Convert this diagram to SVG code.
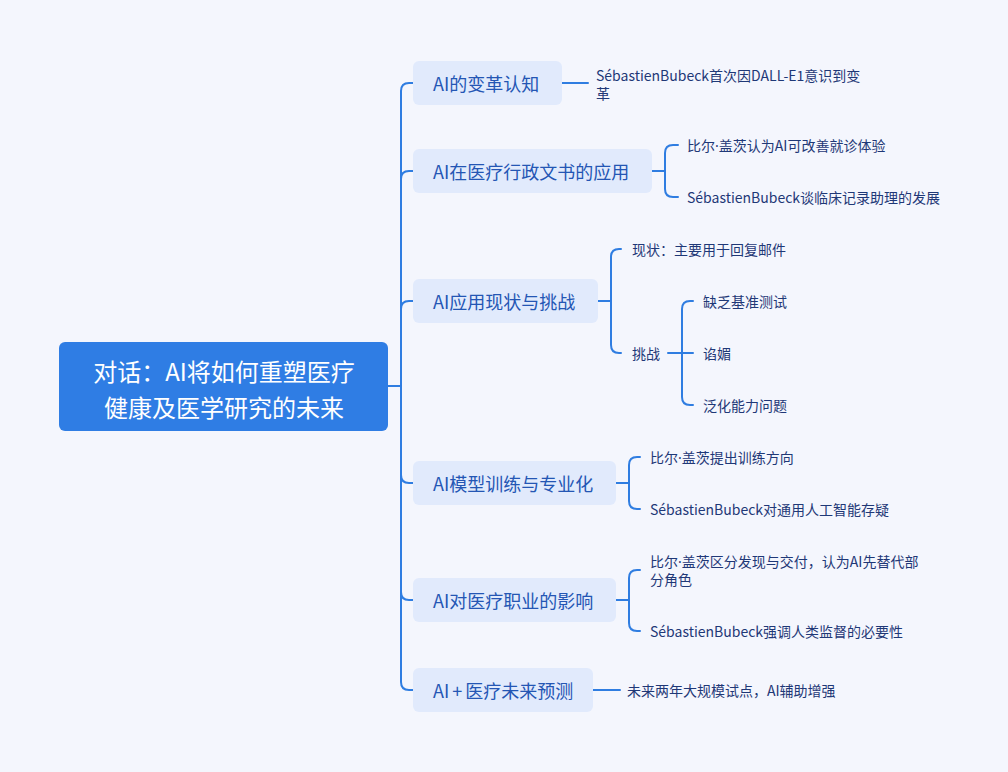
<svg xmlns="http://www.w3.org/2000/svg" width="1008" height="772" viewBox="0 0 1008 772">
<style>
.bg{fill:#f4f6fd}
.root{fill:#2f7de4}
.rt{fill:#ffffff;font-family:"Noto Sans CJK SC","Noto Sans",sans-serif;font-size:24px;text-anchor:middle;dominant-baseline:central}
.n{fill:#e1eafc}
.nt{fill:#2456b4;font-family:"Noto Sans CJK SC","Noto Sans",sans-serif;font-size:18px;dominant-baseline:central}
.lt{fill:#1f3877;font-family:"Noto Sans CJK SC","Noto Sans",sans-serif;font-size:14px;dominant-baseline:central}
.dot{font-family:"Noto Sans",sans-serif}
.c{fill:none;stroke:#2f7de1;stroke-width:2;stroke-linecap:round;stroke-linejoin:round}
</style>
<rect class="bg" x="0" y="0" width="1008" height="772"/>
<g id="connectors">
<path class="c" d="M388 386 H401"/>
<path class="c" d="M401 386 V91 Q401 83 409 83 H413"/>
<path class="c" d="M401 386 V179 Q401 171 409 171 H413"/>
<path class="c" d="M401 386 V309 Q401 301 409 301 H413"/>
<path class="c" d="M401 386 V475 Q401 483 409 483 H413"/>
<path class="c" d="M401 386 V592 Q401 600 409 600 H413"/>
<path class="c" d="M401 386 V682 Q401 690 409 690 H413"/>
<path class="c" d="M562 83 H588"/>
<path class="c" d="M652 171 H665"/>
<path class="c" d="M665 171 V153 Q665 145 673 145 H678"/>
<path class="c" d="M665 171 V189 Q665 197 673 197 H678"/>
<path class="c" d="M598 301 H611"/>
<path class="c" d="M611 301 V257 Q611 249 619 249 H621"/>
<path class="c" d="M611 301 V345 Q611 353 619 353 H621"/>
<path class="c" d="M668 353 H693"/>
<path class="c" d="M682 353 V309 Q682 301 690 301 H693"/>
<path class="c" d="M682 353 V397 Q682 405 690 405 H693"/>
<path class="c" d="M616 483 H629"/>
<path class="c" d="M629 483 V465 Q629 457 637 457 H640"/>
<path class="c" d="M629 483 V501 Q629 509 637 509 H640"/>
<path class="c" d="M616 600 H629"/>
<path class="c" d="M629 600 V578 Q629 570 637 570 H640"/>
<path class="c" d="M629 600 V623 Q629 631 637 631 H640"/>
<path class="c" d="M593 690 H620"/>
</g>
<g id="root">
<rect class="root" x="59" y="342" width="329" height="89" rx="6"/>
<text class="rt" x="224" y="370">对话：AI将如何重塑医疗</text>
<text class="rt" x="224" y="406">健康及医学研究的未来</text>
</g>
<g id="n1">
<rect class="n" x="413" y="61" width="149" height="44" rx="6"/>
<text class="nt" x="433" y="83">AI的变革认知</text>
</g>
<g id="n1a">
<text class="lt" x="596" y="75">SébastienBubeck首次因DALL-E1意识到变</text>
<text class="lt" x="596" y="93">革</text>
</g>
<g id="n2">
<rect class="n" x="413" y="149" width="239" height="44" rx="6"/>
<text class="nt" x="433" y="171">AI在医疗行政文书的应用</text>
</g>
<g id="n2a"><text class="lt" x="687" y="145">比尔<tspan class="dot">·</tspan>盖茨认为AI可改善就诊体验</text></g>
<g id="n2b"><text class="lt" x="687" y="197">SébastienBubeck谈临床记录助理的发展</text></g>
<g id="n3">
<rect class="n" x="413" y="279" width="185" height="44" rx="6"/>
<text class="nt" x="433" y="301">AI应用现状与挑战</text>
</g>
<g id="n3a"><text class="lt" x="632" y="249">现状：主要用于回复邮件</text></g>
<g id="n3b"><text class="lt" x="632" y="353">挑战</text></g>
<g id="n3b1"><text class="lt" x="703" y="301">缺乏基准测试</text></g>
<g id="n3b2"><text class="lt" x="703" y="353">谄媚</text></g>
<g id="n3b3"><text class="lt" x="703" y="405">泛化能力问题</text></g>
<g id="n4">
<rect class="n" x="413" y="461" width="203" height="44" rx="6"/>
<text class="nt" x="433" y="483">AI模型训练与专业化</text>
</g>
<g id="n4a"><text class="lt" x="650" y="457">比尔<tspan class="dot">·</tspan>盖茨提出训练方向</text></g>
<g id="n4b"><text class="lt" x="650" y="509">SébastienBubeck对通用人工智能存疑</text></g>
<g id="n5">
<rect class="n" x="413" y="578" width="203" height="44" rx="6"/>
<text class="nt" x="433" y="600">AI对医疗职业的影响</text>
</g>
<g id="n5a">
<text class="lt" x="650" y="561">比尔<tspan class="dot">·</tspan>盖茨区分发现与交付，认为AI先替代部</text>
<text class="lt" x="650" y="579">分角色</text>
</g>
<g id="n5b"><text class="lt" x="650" y="631">SébastienBubeck强调人类监督的必要性</text></g>
<g id="n6">
<rect class="n" x="413" y="668" width="180" height="44" rx="6"/>
<text class="nt" x="433" y="690">AI<tspan dx="3">+</tspan><tspan dx="3">医疗未来预测</tspan></text>
</g>
<g id="n6a"><text class="lt" x="627" y="690">未来两年大规模试点，AI辅助增强</text></g>
</svg>
